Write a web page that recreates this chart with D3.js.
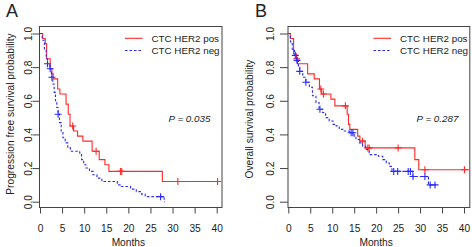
<!DOCTYPE html>
<html>
<head>
<meta charset="utf-8">
<script src="https://cdn.jsdelivr.net/npm/d3@7"></script>
<style>
  body { margin: 0; background: #fff; }
  text { font-family: "Liberation Sans", Arial, sans-serif; fill: #222; }
  .frame { fill: none; stroke: #444; stroke-width: 1; }
  .tick line { stroke: #444; }
</style>
</head>
<body>
<svg width="472" height="247"></svg>
<script>
// x ticks (months) and y ticks (probability)
var xTicks = [0, 5, 10, 15, 20, 25, 30, 35, 40];
var yTicks = [0, 0.2, 0.4, 0.6, 0.8, 1.0];
var legendLabels = ["CTC HER2 pos", "CTC HER2 neg"];

// Panel A: progression free survival, [time, survival] after each drop
var pfsPos = [[0,1],[0.6,0.97],[1.2,0.94],[1.5,0.85],[2.3,0.79],[2.7,0.76],[3.0,0.73],[4.0,0.67],[4.5,0.64],[5.9,0.58],[6.4,0.52],[6.8,0.45],[7.6,0.42],[8.5,0.39],[9.7,0.36],[11.8,0.30],[13.4,0.25],[14.7,0.22],[15.6,0.18],[27.7,0.12],[40.8,0.12]];
var pfsPosCens = [7.4, 12.7, 18.2, 18.5, 31.2, 40.2];
var pfsNeg = [[0,1],[0.5,0.96],[1.0,0.90],[1.4,0.85],[1.7,0.82],[2.2,0.79],[2.6,0.74],[2.9,0.70],[3.2,0.65],[3.5,0.60],[3.8,0.56],[4.1,0.52],[4.4,0.47],[4.8,0.42],[5.2,0.38],[5.7,0.35],[6.3,0.32],[6.9,0.30],[9.0,0.28],[9.4,0.25],[9.9,0.22],[10.4,0.20],[11.2,0.18],[12.0,0.16],[12.9,0.14],[14.0,0.12],[17.5,0.10],[18.4,0.09],[20.5,0.075],[21.8,0.06],[23.0,0.045],[23.8,0.03],[28.1,0.0],[28.3,0.0]];
var pfsNegCens = [1.7, 2.3, 2.7, 4.1, 27.3];

// Panel B: overall survival
var osPos = [[0,1],[0.45,0.97],[1.2,0.88],[1.9,0.85],[2.1,0.82],[4.4,0.76],[5.9,0.73],[7.1,0.67],[7.6,0.64],[9.7,0.61],[10.6,0.57],[13.4,0.52],[13.7,0.46],[14.0,0.43],[15.8,0.39],[16.3,0.36],[17.5,0.32],[28.8,0.25],[29.7,0.19],[41.2,0.19]];
var osPosCens = [1.9, 7.4, 8.0, 13.0, 16.9, 18.1, 18.4, 25.0, 31.1, 40.1];
var osNeg = [[0,1],[0.5,0.95],[0.9,0.90],[1.4,0.87],[1.9,0.84],[2.3,0.80],[2.6,0.775],[3.3,0.74],[4.0,0.71],[4.8,0.68],[5.5,0.63],[6.3,0.59],[7.0,0.55],[7.8,0.53],[8.5,0.50],[9.3,0.48],[10.2,0.46],[10.9,0.45],[11.6,0.43],[12.4,0.42],[13.9,0.41],[15.0,0.39],[15.4,0.37],[16.2,0.35],[16.9,0.33],[17.6,0.31],[18.4,0.28],[20.5,0.27],[21.5,0.25],[22.3,0.23],[23.0,0.21],[23.6,0.18],[28.3,0.15],[31.9,0.10],[33.6,0.10]];
var osNegCens = [1.6, 2.0, 2.6, 4.0, 7.2, 14.3, 14.7, 24.0, 24.9, 27.3, 27.8, 28.4, 31.1, 32.3, 33.4];

var svg = d3.select("svg");
var fs = "9.8px";
var axisFs = "10.2px";

function survAt(steps, t) {
  var s = 1;
  for (var i = 0; i < steps.length; i++) {
    if (steps[i][0] <= t) s = steps[i][1];
  }
  return s;
}

function panel(opt) {
  var x = d3.scaleLinear().domain([0, 40]).range([opt.x0, opt.x40]);
  var y = d3.scaleLinear().domain([0, 1]).range([201.7, 33.5]);
  var g = svg.append("g");

  g.append("rect").attr("class", "frame")
    .attr("x", opt.left + 0.5).attr("y", 26.5)
    .attr("width", opt.right - opt.left).attr("height", 181);

  var xAxis = g.append("g").attr("transform", "translate(0,207.5)")
    .call(d3.axisBottom(x).tickValues(xTicks).tickSize(6).tickPadding(0).tickFormat(d3.format("d")));
  xAxis.select(".domain").remove();
  xAxis.selectAll(".tick text").style("font-size", axisFs).attr("fill", "#222")
    .attr("dy", 0).attr("y", 24);

  var yAxis = g.append("g").attr("transform", "translate(" + (opt.left + 0.5) + ",0)")
    .call(d3.axisLeft(y).tickValues(yTicks).tickSize(opt.tickLen).tickFormat(d3.format(".1f")));
  yAxis.select(".domain").remove();
  yAxis.selectAll(".tick text")
    .style("font-size", axisFs).attr("fill", "#222")
    .attr("text-anchor", "middle").attr("dy", "0.35em")
    .attr("x", 0).attr("y", 0)
    .attr("transform", "translate(" + (-opt.tickLab) + ",0) rotate(-90)");

  g.append("text").attr("x", (opt.x0 + opt.x40) / 2).attr("y", 246)
    .attr("text-anchor", "middle").style("font-size", axisFs).text("Months");
  g.append("text")
    .attr("transform", "translate(" + opt.titleX + "," + opt.titleY + ") rotate(-90)")
    .attr("text-anchor", "middle").attr("dy", "0.35em").style("font-size", axisFs).text(opt.title);
  g.append("text").attr("x", opt.letterX).attr("y", 17)
    .style("font-size", "18px").text(opt.letter);

  var line = d3.line().x(d => x(d[0])).y(d => y(d[1])).curve(d3.curveStepAfter);
  var series = [
    { steps: opt.pos, cens: opt.posCens, color: "#ff2a2a", dash: null },
    { steps: opt.neg, cens: opt.negCens, color: "#2a2aff", dash: "2.5,2" }
  ];
  series.forEach(function (s) {
    g.append("path").attr("d", line(s.steps)).attr("fill", "none")
      .attr("stroke", s.color).attr("stroke-width", 1.1)
      .attr("stroke-dasharray", s.dash);
    g.selectAll(null).data(s.cens).enter().append("path")
      .attr("d", function (t) {
        var cx = x(t), cy = y(survAt(s.steps, t));
        return "M" + (cx - 3.5) + "," + cy + "H" + (cx + 3.5) + "M" + cx + "," + (cy - 3.5) + "V" + (cy + 3.5);
      })
      .attr("stroke", s.color).attr("stroke-width", 1.1);
  });

  // legend
  legendLabels.forEach(function (lab, i) {
    var ly = 38.3 + i * 12.2;
    g.append("line").attr("x1", opt.legX).attr("x2", opt.legX + 17.5)
      .attr("y1", ly).attr("y2", ly)
      .attr("stroke", series[i].color).attr("stroke-width", 1.1)
      .attr("stroke-dasharray", series[i].dash);
    g.append("text").attr("x", opt.legX + 26.5).attr("y", ly).attr("dy", "0.35em")
      .style("font-size", fs).text(lab);
  });

  g.append("text").attr("x", opt.pX).attr("y", 121.5)
    .style("font-size", fs).style("font-style", "italic").text("P = " + opt.p);
}

panel({
  letter: "A", letterX: 6, x0: 40, x40: 216.7, left: 39, right: 221.5,
  tickLen: 7, tickLab: 11.5, titleX: 10.5, titleY: 114, title: "Progression free survival probability",
  pos: pfsPos, posCens: pfsPosCens, neg: pfsNeg, negCens: pfsNegCens,
  legX: 125, pX: 168.5, p: "0.035"
});
panel({
  letter: "B", letterX: 255, x0: 288.3, x40: 464, left: 287.5, right: 469.3,
  tickLen: 8, tickLab: 18, titleX: 249.5, titleY: 119, title: "Overall survival probability",
  pos: osPos, posCens: osPosCens, neg: osNeg, negCens: osNegCens,
  legX: 373.5, pX: 416.5, p: "0.287"
});
</script>
</body>
</html>
